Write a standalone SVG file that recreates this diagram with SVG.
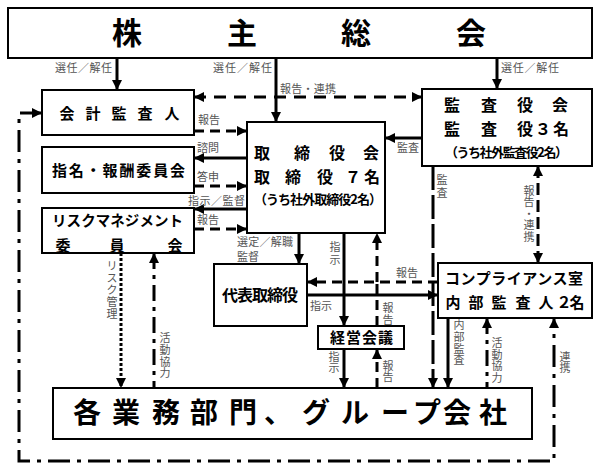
<svg xmlns="http://www.w3.org/2000/svg" width="599" height="470" viewBox="0 0 599 470">
<style>
.box{fill:#fff;stroke:#000;stroke-width:2}
.t{font-family:"Noto Sans CJK JP","Noto Sans CJK SC",sans-serif;font-weight:bold;fill:#000}
.lb{font-family:"Noto Sans CJK JP","Noto Sans CJK SC",sans-serif;font-size:11px;fill:#555}
.c{fill:none;stroke:#000;stroke-width:3}
.dash{stroke-dasharray:10 6}
.dashL{stroke-dasharray:12 8}
.dashV{stroke-dasharray:12 5}
.dashLong{stroke-dasharray:24 5}
.dd{stroke-dasharray:22 7 4 7}
.ddS{stroke-dasharray:16 6 4 6}
.dot{stroke-dasharray:3 2}
</style>
<defs>
<marker id="a" markerUnits="userSpaceOnUse" markerWidth="10" markerHeight="10" viewBox="0 0 10 10" refX="10" refY="5" orient="auto-start-reverse">
<path d="M0,0 L10,5 L0,10 z" fill="#000"/>
</marker>
</defs>

<g id="connectors">
<line class="c" x1="117" y1="58" x2="117" y2="90" marker-end="url(#a)"/>
<line class="c" x1="276" y1="58" x2="276" y2="122" marker-end="url(#a)"/>
<line class="c" x1="497" y1="58" x2="497" y2="89" marker-end="url(#a)"/>
<line class="c dashL" x1="194" y1="97" x2="422" y2="97" marker-start="url(#a)" marker-end="url(#a)"/>
<line class="c dash" x1="194" y1="131" x2="247" y2="131" marker-end="url(#a)"/>
<line class="c" x1="247" y1="158" x2="194" y2="158" marker-end="url(#a)"/>
<line class="c dash" x1="194" y1="186" x2="247" y2="186" marker-end="url(#a)"/>
<line class="c" x1="247" y1="209" x2="194" y2="209" marker-end="url(#a)"/>
<line class="c dash" x1="194" y1="229" x2="247" y2="229" marker-end="url(#a)"/>
<line class="c" x1="422" y1="138" x2="385" y2="138" marker-end="url(#a)"/>
<line class="c dashLong" x1="433" y1="166" x2="433" y2="388" marker-end="url(#a)"/>
<line class="c dashV" x1="538" y1="166" x2="538" y2="263" marker-start="url(#a)" marker-end="url(#a)"/>
<line class="c" x1="299" y1="233" x2="299" y2="264" marker-end="url(#a)"/>
<line class="c" x1="344" y1="233" x2="344" y2="326" marker-end="url(#a)"/>
<line class="c dash" x1="438" y1="282" x2="307" y2="282" marker-end="url(#a)"/>
<line class="c dash" x1="377" y1="282" x2="377" y2="233" marker-end="url(#a)"/>
<line class="c dash" x1="377" y1="326" x2="377" y2="284"/>
<line class="c" x1="307" y1="295" x2="438" y2="295" marker-end="url(#a)"/>
<line class="c" x1="344" y1="349" x2="344" y2="388" marker-end="url(#a)"/>
<line class="c dash" x1="377" y1="388" x2="377" y2="349" marker-end="url(#a)"/>
<line class="c" x1="448" y1="318" x2="448" y2="388" marker-end="url(#a)"/>
<line class="c ddS" x1="487" y1="318" x2="487" y2="388" marker-start="url(#a)"/>
<path class="c dd" d="M42,113 L19,113 L19,461 L554,461 L554,318" marker-start="url(#a)" marker-end="url(#a)"/>
<line class="c dot" x1="121" y1="253" x2="121" y2="388" marker-end="url(#a)"/>
<line class="c ddS" x1="154" y1="253" x2="154" y2="388" marker-start="url(#a)"/>
</g>

<g id="shareholders">
<rect class="box" x="8" y="8" width="584" height="50"/>
<text class="t" font-size="30" text-anchor="middle" x="127 242 356 471" y="44">株主総会</text>
</g>

<g id="accounting-auditor">
<rect class="box" x="42" y="90" width="152" height="45"/>
<text class="t" font-size="15" text-anchor="middle" x="67 93 119 145 172" y="118.5">会計監査人</text>
</g>

<g id="nomination-committee">
<rect class="box" x="42" y="147" width="152" height="46"/>
<text class="t" font-size="15" x="52" y="175.5" textLength="133" lengthAdjust="spacing">指名・報酬委員会</text>
</g>

<g id="risk-committee">
<rect class="box" x="42" y="208" width="152" height="45"/>
<text class="t" font-size="14.5" x="52" y="225.5" textLength="131" lengthAdjust="spacing">リスクマネジメント</text>
<text class="t" font-size="15" text-anchor="middle" x="63 117 175" y="250.5">委員会</text>
</g>

<g id="board">
<rect class="box" x="247" y="122" width="138" height="111"/>
<text class="t" font-size="16" text-anchor="middle" x="262 302 337 371" y="159">取締役会</text>
<text class="t" font-size="16" text-anchor="middle" x="262 293 325 353 372" y="183">取締役７名</text>
<text class="t" font-size="13" x="254" y="204" textLength="128" lengthAdjust="spacing">（うち社外取締役2名）</text>
</g>

<g id="audit-board">
<rect class="box" x="422" y="89" width="170" height="77"/>
<text class="t" font-size="16" text-anchor="middle" x="452 489 525 560" y="111">監査役会</text>
<text class="t" font-size="16" text-anchor="middle" x="452 489 525 543 561" y="135">監査役３名</text>
<text class="t" font-size="13" x="445" y="157" textLength="123" lengthAdjust="spacing">（うち社外監査役2名）</text>
</g>

<g id="representative-director">
<rect class="box" x="214" y="264" width="93" height="62"/>
<text class="t" font-size="16" x="222" y="301" textLength="76" lengthAdjust="spacing">代表取締役</text>
</g>

<g id="management-meeting">
<rect class="box" x="318" y="326" width="86" height="23"/>
<text class="t" font-size="15" x="330" y="342.5" textLength="63" lengthAdjust="spacing">経営会議</text>
</g>

<g id="compliance">
<rect class="box" x="438" y="263" width="154" height="55"/>
<text class="t" font-size="15" x="445" y="283.5" textLength="138" lengthAdjust="spacing">コンプライアンス室</text>
<text class="t" font-size="15" text-anchor="middle" x="453 476 499 523 546 564 577" y="308">内部監査人２名</text>
</g>

<g id="business-units">
<rect class="box" x="53" y="388" width="479" height="51"/>
<text class="t" font-size="28" text-anchor="middle" x="87 126 166 204 243 278 316 355 395 427 457 493" y="422.5">各業務部門、グループ会社</text>
</g>

<g id="labels">
<text class="lb" x="55" y="72" textLength="57" lengthAdjust="spacing">選任／解任</text>
<text class="lb" x="213" y="72" textLength="59" lengthAdjust="spacing">選任／解任</text>
<text class="lb" x="501" y="72" textLength="58" lengthAdjust="spacing">選任／解任</text>
<text class="lb" x="280" y="93" textLength="56" lengthAdjust="spacing">報告・連携</text>
<text class="lb" x="198" y="124">報告</text>
<text class="lb" x="197" y="152">諮問</text>
<text class="lb" x="197" y="181">答申</text>
<text class="lb" x="188" y="205" textLength="57" lengthAdjust="spacing">指示／監督</text>
<text class="lb" x="197" y="224">報告</text>
<text class="lb" x="397" y="152">監査</text>
<text class="lb" x="237" y="246" textLength="56" lengthAdjust="spacing">選定／解職</text>
<text class="lb" x="237" y="261">監督</text>
<text class="lb" x="396" y="277">報告</text>
<text class="lb" x="310" y="310">指示</text>
<text class="lb" text-anchor="middle" x="442 442" y="184 197">監査</text>
<text class="lb" text-anchor="middle" x="529 529 529 529 529" y="195 206 217.5 229 240.5">報告・連携</text>
<text class="lb" text-anchor="middle" x="335 335" y="251 264">指示</text>
<text class="lb" text-anchor="middle" x="388 388" y="312 324">報告</text>
<text class="lb" text-anchor="middle" x="334 334" y="361 372">指示</text>
<text class="lb" text-anchor="middle" x="388 388" y="370 381">報告</text>
<text class="lb" text-anchor="middle" x="459 459 459 459" y="329 341 353 364">内部監査</text>
<text class="lb" text-anchor="middle" x="497 497 497 497" y="347 359 370 382">活動協力</text>
<text class="lb" text-anchor="middle" x="565 565" y="361 372">連携</text>
<text class="lb" text-anchor="middle" x="112 112 112 112 112" y="270 282 294 306 318">リスク管理</text>
<text class="lb" text-anchor="middle" x="165 165 165 165" y="342 354 366 377">活動協力</text>
</g>
</svg>
